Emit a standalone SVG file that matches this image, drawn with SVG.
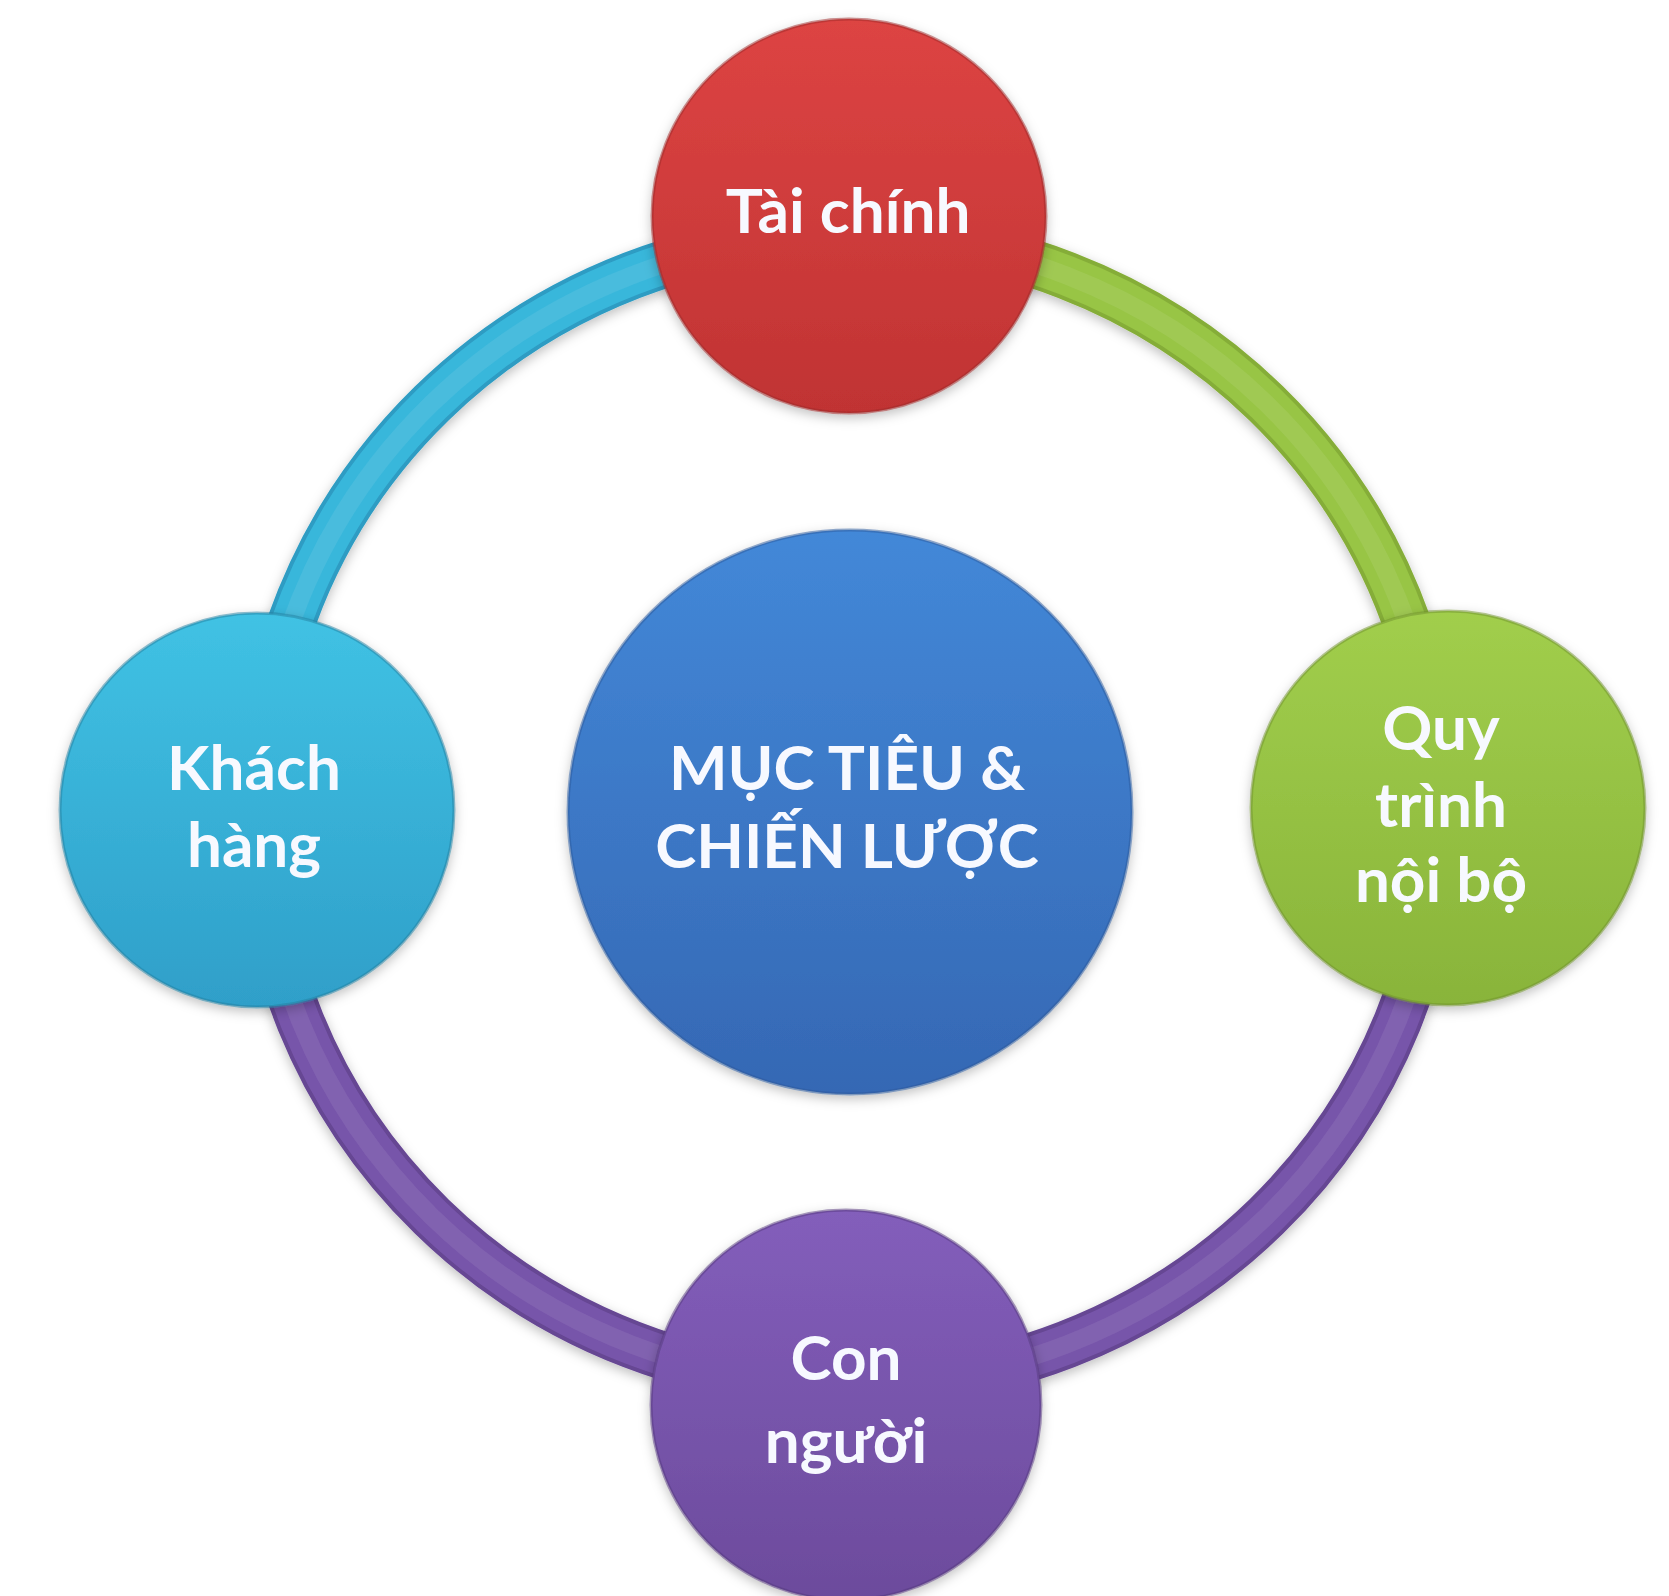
<svg xmlns="http://www.w3.org/2000/svg" width="1669" height="1596" viewBox="0 0 1669 1596">
  <style>
    .lbl { font-family: Lato, "Open Sans", "Noto Sans", sans-serif; font-weight: 700; font-size: 62px; fill: #f7f9ff; text-anchor: middle; }
    .rim { stroke-width: 3; stroke-opacity: 0.5; }
    .band-edge { fill: none; stroke-width: 48; }
    .band-body { fill: none; stroke-width: 40; }
    .band-hi { fill: none; stroke-width: 18; stroke: #ffffff; stroke-opacity: 0.08; }
  </style>
  <defs>
    <filter id="soft" x="-20%" y="-20%" width="140%" height="140%">
      <feDropShadow dx="0" dy="4" stdDeviation="6" flood-color="#000" flood-opacity="0.25"/>
    </filter>
    <linearGradient id="gRed" x1="0" y1="0" x2="0" y2="1">
      <stop offset="0" stop-color="#dd4443"/>
      <stop offset="1" stop-color="#c03333"/>
    </linearGradient>
    <linearGradient id="gCyan" x1="0" y1="0" x2="0" y2="1">
      <stop offset="0" stop-color="#40c2e4"/>
      <stop offset="1" stop-color="#2f9fc9"/>
    </linearGradient>
    <linearGradient id="gGreen" x1="0" y1="0" x2="0" y2="1">
      <stop offset="0" stop-color="#a1ce4c"/>
      <stop offset="1" stop-color="#89b43a"/>
    </linearGradient>
    <linearGradient id="gPurple" x1="0" y1="0" x2="0" y2="1">
      <stop offset="0" stop-color="#835ebb"/>
      <stop offset="1" stop-color="#6c4b9c"/>
    </linearGradient>
    <linearGradient id="gBlue" x1="0" y1="0" x2="0" y2="1">
      <stop offset="0" stop-color="#4388d8"/>
      <stop offset="1" stop-color="#3568b4"/>
    </linearGradient>
  </defs>

  <rect width="1669" height="1596" fill="#ffffff"/>

  <!-- ring segments joining the outer nodes -->
  <g id="connectors" filter="url(#soft)">
    <path class="band-edge" stroke="#2d9cc3" d="M 259 810 A 590 575 0 0 1 849 235"/>
    <path class="band-body" stroke="#39b7db" d="M 259 810 A 590 575 0 0 1 849 235"/>
    <path class="band-hi" d="M 259 810 A 590 575 0 0 1 849 235"/>

    <path class="band-edge" stroke="#85ad38" d="M 849 235 A 590 575 0 0 1 1439 810"/>
    <path class="band-body" stroke="#98c545" d="M 849 235 A 590 575 0 0 1 1439 810"/>
    <path class="band-hi" d="M 849 235 A 590 575 0 0 1 1439 810"/>

    <path class="band-edge" stroke="#664693" d="M 1439 810 A 590 575 0 0 1 849 1385 A 590 575 0 0 1 259 810"/>
    <path class="band-body" stroke="#7755aa" d="M 1439 810 A 590 575 0 0 1 849 1385 A 590 575 0 0 1 259 810"/>
    <path class="band-hi" d="M 1439 810 A 590 575 0 0 1 849 1385 A 590 575 0 0 1 259 810"/>
  </g>

  <g id="node-center" filter="url(#soft)">
    <circle cx="850" cy="812" r="282" fill="url(#gBlue)" class="rim" stroke="#2c5a9c"/>
    <text class="lbl" x="847" y="790">MỤC TIÊU &amp;</text>
    <text class="lbl" x="847" y="868">CHIẾN LƯỢC</text>
  </g>

  <g id="node-finance" filter="url(#soft)">
    <circle cx="849" cy="216" r="197" fill="url(#gRed)" class="rim" stroke="#9e2a2a"/>
    <text class="lbl" x="848" y="233">Tài chính</text>
  </g>

  <g id="node-customer" filter="url(#soft)">
    <circle cx="257" cy="810" r="197" fill="url(#gCyan)" class="rim" stroke="#23809f"/>
    <text class="lbl" x="254" y="790">Khách</text>
    <text class="lbl" x="254" y="867">hàng</text>
  </g>

  <g id="node-process" filter="url(#soft)">
    <circle cx="1448" cy="808" r="197" fill="url(#gGreen)" class="rim" stroke="#6f922d"/>
    <text class="lbl" x="1441" y="750">Quy</text>
    <text class="lbl" x="1441" y="827">trình</text>
    <text class="lbl" x="1441" y="902">nội bộ</text>
  </g>

  <g id="node-people" filter="url(#soft)">
    <circle cx="846" cy="1405" r="195" fill="url(#gPurple)" class="rim" stroke="#553a7d"/>
    <text class="lbl" x="846" y="1380">Con</text>
    <text class="lbl" x="846" y="1463">người</text>
  </g>
</svg>
